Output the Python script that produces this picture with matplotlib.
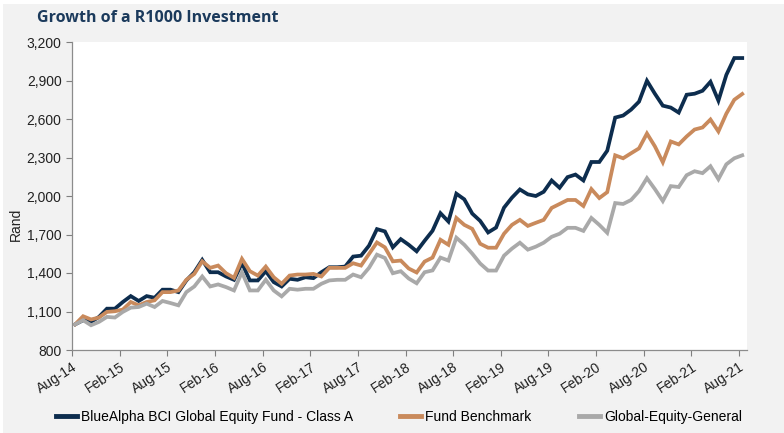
import numpy as np, matplotlib; matplotlib.use("Agg")
import matplotlib.pyplot as plt
from matplotlib.patches import Rectangle
from matplotlib.ticker import FuncFormatter

# monthly values, Aug-14 .. Aug-21
fund = [1000,1032,1019,1058,1122,1122,1174,1220,1182,1220,1207,1270,1270,1251,1342,1406,1502,1406,1406,1373,
        1347,1476,1342,1342,1414,1329,1295,1355,1347,1367,1360,1406,1445,1445,1450,1528,1535,1613,1742,1724,
        1600,1664,1620,1569,1651,1729,1866,1801,2018,1974,1863,1806,1716,1754,1909,1987,2051,2013,2000,2033,
        2121,2064,2147,2167,2121,2265,2265,2353,2611,2627,2673,2735,2898,2797,2704,2689,2650,2789,2797,2820,
        2890,2743,2944,3075,3075]
bench = [1000,1063,1038,1053,1097,1102,1115,1174,1148,1174,1187,1251,1251,1264,1347,1393,1491,1440,1458,1398,
         1362,1510,1414,1380,1450,1367,1316,1380,1388,1388,1393,1373,1440,1440,1440,1476,1458,1548,1638,1600,
         1491,1497,1435,1404,1489,1520,1659,1620,1829,1775,1744,1628,1597,1597,1706,1775,1814,1767,1791,1814,
         1907,1938,1969,1969,1922,2054,1984,2030,2317,2294,2333,2371,2487,2387,2263,2425,2402,2464,2518,2534,
         2596,2503,2642,2750,2795]
peers = [1000,1032,993,1019,1058,1053,1097,1130,1135,1161,1135,1182,1166,1148,1251,1295,1373,1295,1311,1290,
         1264,1406,1264,1264,1347,1264,1218,1277,1270,1277,1277,1316,1342,1347,1347,1388,1367,1440,1543,1517,
         1398,1414,1357,1320,1406,1420,1520,1497,1675,1620,1551,1474,1419,1419,1535,1590,1636,1582,1605,1636,
         1682,1706,1752,1752,1728,1829,1775,1713,1945,1938,1969,2038,2139,2054,1961,2077,2070,2162,2193,2178,
         2232,2131,2247,2294,2317]
tick_labels = ["Aug-14","Feb-15","Aug-15","Feb-16","Aug-16","Feb-17","Aug-17","Feb-18",
               "Aug-18","Feb-19","Aug-19","Feb-20","Aug-20","Feb-21","Aug-21"]
names = ["BlueAlpha BCI Global Equity Fund - Class A","Fund Benchmark","Global-Equity-General"]
colors = ["#0d2d4e","#c98a5c","#a9a9a9"]

W,H = 784,433
fig = plt.figure(figsize=(W/100,H/100),dpi=100,facecolor="white")
fig.patches.append(Rectangle((3/W,0),1-3/W,1-4/H,transform=fig.transFigure,facecolor="#f2f2f2",edgecolor="none",zorder=-1))
ax = fig.add_axes([72/W,1-350/H,(747-72)/W,(350-42)/H])
ax.set_facecolor("white")

x = np.arange(len(fund))+0.4
for s,n,c in zip([fund,bench,peers],names,colors):
    ax.plot(x,s,color=c,lw=2.7,label=n,solid_joinstyle="miter")

ax.set_xlim(0,85.0);ax.set_ylim(800,3200)
ax.set_xticks(np.arange(0,85,6));ax.set_xticklabels(tick_labels,rotation=33,ha="right",rotation_mode="anchor",fontsize=10,family="Liberation Sans")
ax.set_yticks(np.arange(800,3201,300))
ax.yaxis.set_major_formatter(FuncFormatter(lambda v,p:f"{int(v):,}"))
for t in ax.get_yticklabels():t.set_fontsize(10);t.set_family("Liberation Sans")
ax.tick_params(axis="both",colors="#7f7f7f",labelcolor="#222222",length=4,width=0.8)
ax.tick_params(axis="x",pad=3)
for sp in ["top","right"]:ax.spines[sp].set_visible(False)
for sp in ["left","bottom"]:ax.spines[sp].set_color("#8c8c8c");ax.spines[sp].set_linewidth(0.9)

fig.text(16/W,1-224/H,"Rand",rotation=90,ha="center",va="center",fontsize=10,family="Liberation Sans",color="#222222")
fig.text(37/W,1-18/H,"Growth of a R1000 Investment",ha="left",va="center",fontsize=11.5,fontweight="bold",family="Open Sans",color="#1b3a5c")

fig.legend(loc="center",bbox_to_anchor=(399/W,1-417/H),ncol=3,frameon=False,handlelength=1.5,handletextpad=0.3,
           columnspacing=3.4,prop={"family":"Liberation Sans","size":10})
for l in fig.legends[0].get_lines():l.set_linewidth(3.5)
fig.savefig("out.png",dpi=100,facecolor=fig.get_facecolor())
